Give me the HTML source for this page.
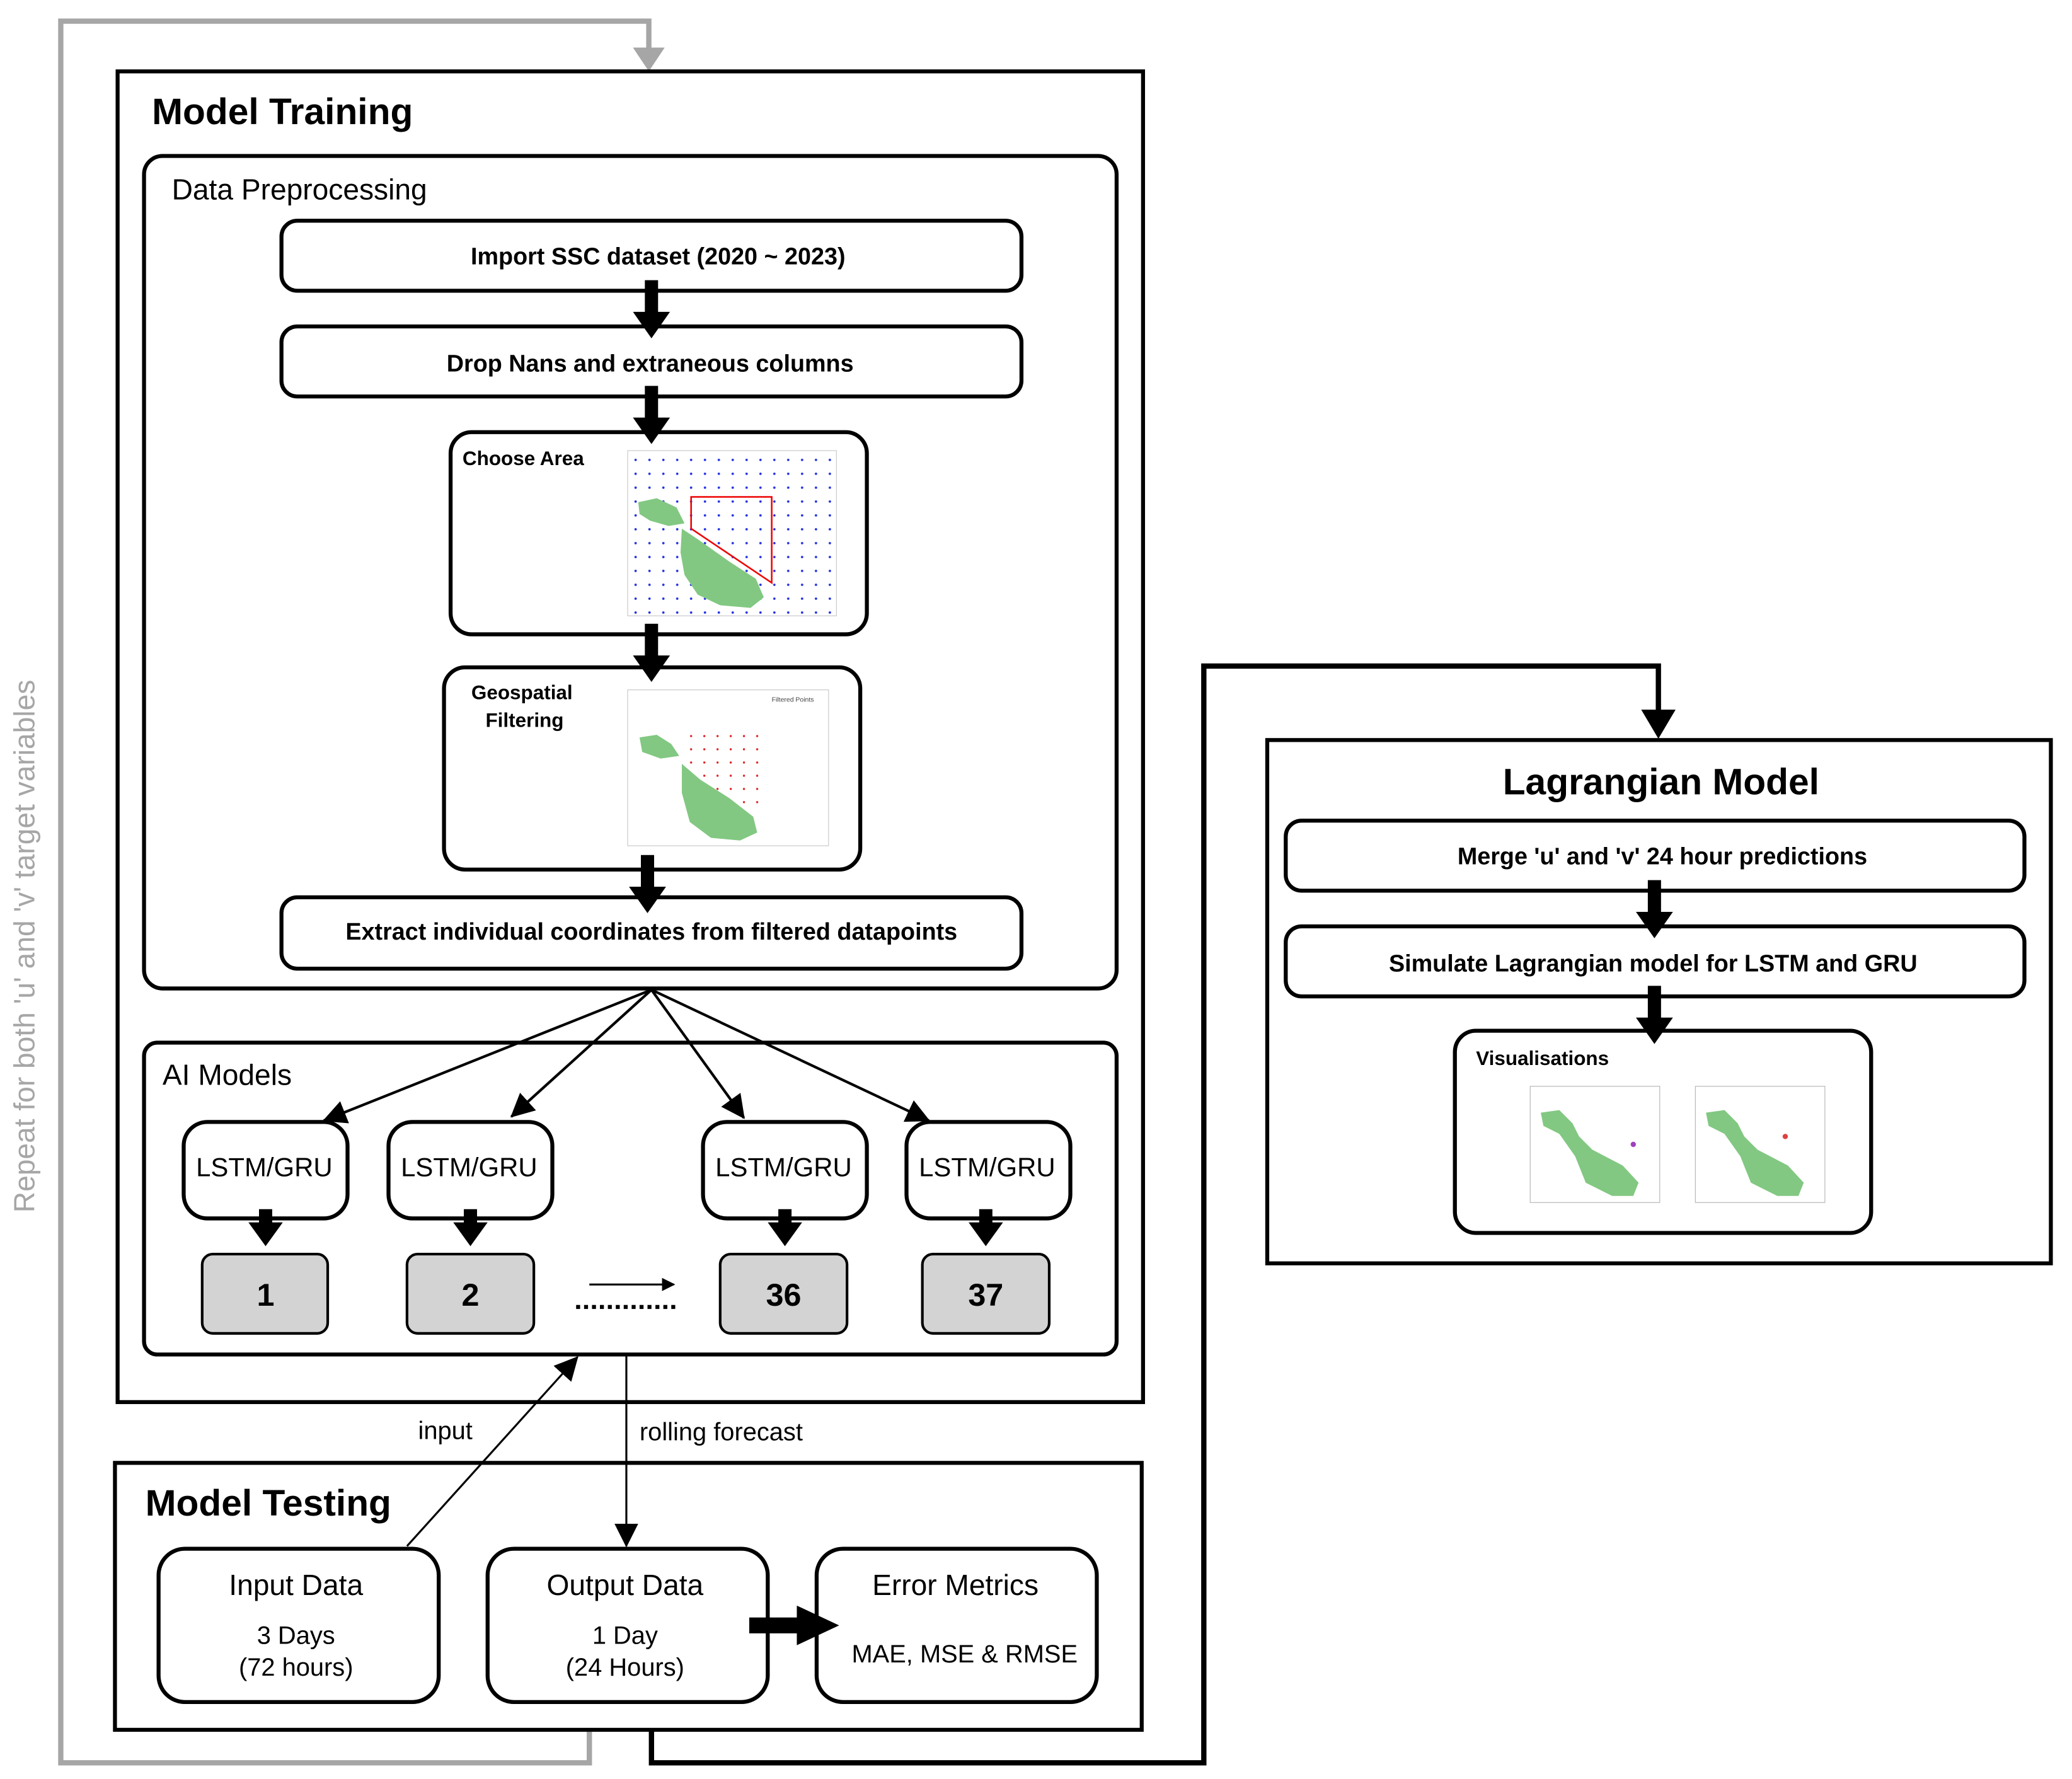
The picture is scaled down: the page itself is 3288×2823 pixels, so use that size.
<!DOCTYPE html>
<html><head><meta charset="utf-8"><style>
html,body{margin:0;padding:0;background:#fff;}
svg{display:block;}
text{font-family:"Liberation Sans",sans-serif;}
</style></head><body>
<svg width="3288" height="2823" viewBox="0 0 1568 1346.2" xmlns="http://www.w3.org/2000/svg">
<defs>
<marker id="ah" markerWidth="10" markerHeight="10" refX="9" refY="5" orient="auto" markerUnits="userSpaceOnUse" viewBox="0 0 10 10"><path d="M0,0 L10,5 L0,10 z" fill="#000"/></marker>
<marker id="ahs" markerWidth="18" markerHeight="18" refX="17" refY="9" orient="auto" markerUnits="userSpaceOnUse" viewBox="0 0 18 18"><path d="M0,0 L18,9 L0,18 z" fill="#000"/></marker>
<pattern id="bd" x="480" y="347" width="10.5" height="10.5" patternUnits="userSpaceOnUse"><circle cx="1" cy="1" r="0.9" fill="#2030e0"/></pattern>
<pattern id="rd" x="522" y="556" width="10" height="10" patternUnits="userSpaceOnUse"><circle cx="1" cy="1" r="0.8" fill="#e02020"/></pattern>
<g id="ba"><rect x="-5" y="0" width="10" height="26" fill="#000"/><path d="M-14,24 L14,24 L0,44 z" fill="#000"/></g>
<g id="ba2"><rect x="-5" y="0" width="10" height="12" fill="#000"/><path d="M-13,10 L13,10 L0,28 z" fill="#000"/></g>
</defs>
<rect width="1568" height="1347" fill="#fff"/>
<path d="M446,1309 L446,1334 L46,1334 L46,16 L491,16 L491,38" fill="none" stroke="#a6a6a6" stroke-width="4"/>
<path d="M479,36 L503,36 L491,54 z" fill="#a6a6a6"/>
<text transform="translate(26,716) rotate(-90)" text-anchor="middle" font-size="22" fill="#a6a6a6">Repeat for both 'u' and 'v' target variables</text>
<path d="M493,1309 L493,1334 L911,1334 L911,504 L1255,504 L1255,540" fill="none" stroke="#000" stroke-width="4"/>
<path d="M1242,537 L1268,537 L1255,559 z" fill="#000"/>
<rect x="89" y="54" width="776" height="1007" fill="none" stroke="#000" stroke-width="3"/>
<text x="115" y="94" font-size="28" font-weight="bold">Model Training</text>
<rect x="109" y="118" width="736" height="630" rx="14" fill="#fff" stroke="#000" stroke-width="3"/>
<text x="130" y="151" font-size="22">Data Preprocessing</text>
<rect x="213" y="167" width="560" height="53" rx="12" fill="#fff" stroke="#000" stroke-width="3"/>
<text x="498" y="200" font-size="18" font-weight="bold" text-anchor="middle">Import SSC dataset (2020 ~ 2023)</text>
<rect x="213" y="247" width="560" height="53" rx="12" fill="#fff" stroke="#000" stroke-width="3"/>
<text x="492" y="281" font-size="18" font-weight="bold" text-anchor="middle">Drop Nans and extraneous columns</text>
<rect x="341" y="327" width="315" height="153" rx="16" fill="#fff" stroke="#000" stroke-width="3"/>
<text x="350" y="352" font-size="15" font-weight="bold">Choose Area</text>
<g>
<rect x="475" y="341" width="158" height="125" fill="url(#bd)" stroke="#ccc" stroke-width="0.6"/>
<path d="M483,380 L497,377 L512,384 L518,396 L506,398 L492,394 L484,389 z" fill="#82c882"/>
<path d="M516,400 L528,408 L552,425 L572,438 L578,452 L568,460 L545,458 L528,450 L518,435 L515,418 z" fill="#82c882"/>
<path d="M523,376 L584,376 L584,441 L523,400 z" fill="none" stroke="#e00" stroke-width="1.2"/>
</g>
<rect x="336" y="505" width="315" height="153" rx="16" fill="#fff" stroke="#000" stroke-width="3"/>
<text x="395" y="529" font-size="15" font-weight="bold" text-anchor="middle">Geospatial</text>
<text x="397" y="550" font-size="15" font-weight="bold" text-anchor="middle">Filtering</text>
<g>
<rect x="475" y="522" width="152" height="118" fill="#fff" stroke="#ccc" stroke-width="0.6"/>
<rect x="522" y="556" width="52" height="60" fill="url(#rd)"/>
<text x="584" y="531" font-size="5" fill="#444">Filtered Points</text>
<path d="M484,558 L497,556 L508,563 L514,572 L500,574 L486,569 z" fill="#82c882"/>
<path d="M516,578 L530,590 L552,604 L570,618 L573,630 L560,636 L538,634 L522,622 L516,600 z" fill="#82c882"/>
</g>
<rect x="213" y="679" width="560" height="54" rx="12" fill="#fff" stroke="#000" stroke-width="3"/>
<text x="493" y="711" font-size="18" font-weight="bold" text-anchor="middle">Extract individual coordinates from filtered datapoints</text>
<use href="#ba" x="493" y="212"/>
<use href="#ba" x="493" y="292"/>
<use href="#ba" x="493" y="472"/>
<use href="#ba" x="490" y="647"/>
<g stroke="#000" stroke-width="2" fill="none" marker-end="url(#ahs)">
<line x1="493" y1="749" x2="245" y2="848"/>
<line x1="493" y1="749" x2="387" y2="845"/>
<line x1="493" y1="749" x2="563" y2="846"/>
<line x1="493" y1="749" x2="703" y2="848"/>
</g>
<rect x="109" y="789" width="736" height="236" rx="10" fill="none" stroke="#000" stroke-width="3"/>
<text x="123" y="821" font-size="22">AI Models</text>
<g font-size="20" text-anchor="middle">
<rect x="139" y="849" width="124" height="73" rx="18" fill="#fff" stroke="#000" stroke-width="3"/><text x="200" y="890">LSTM/GRU</text>
<rect x="294" y="849" width="124" height="73" rx="18" fill="#fff" stroke="#000" stroke-width="3"/><text x="355" y="890">LSTM/GRU</text>
<rect x="532" y="849" width="124" height="73" rx="18" fill="#fff" stroke="#000" stroke-width="3"/><text x="593" y="890">LSTM/GRU</text>
<rect x="686" y="849" width="124" height="73" rx="18" fill="#fff" stroke="#000" stroke-width="3"/><text x="747" y="890">LSTM/GRU</text>
</g>
<g font-size="24" font-weight="bold" text-anchor="middle">
<rect x="153" y="949" width="95" height="60" rx="8" fill="#d3d3d3" stroke="#000" stroke-width="2"/><text x="201" y="988">1</text>
<rect x="308" y="949" width="96" height="60" rx="8" fill="#d3d3d3" stroke="#000" stroke-width="2"/><text x="356" y="988">2</text>
<rect x="545" y="949" width="96" height="60" rx="8" fill="#d3d3d3" stroke="#000" stroke-width="2"/><text x="593" y="988">36</text>
<rect x="698" y="949" width="96" height="60" rx="8" fill="#d3d3d3" stroke="#000" stroke-width="2"/><text x="746" y="988">37</text>
</g>
<use href="#ba2" x="201" y="915"/>
<use href="#ba2" x="356" y="915"/>
<use href="#ba2" x="594" y="915"/>
<use href="#ba2" x="746" y="915"/>
<line x1="436" y1="989" x2="514" y2="989" stroke="#000" stroke-width="3" stroke-dasharray="3,3"/>
<line x1="446" y1="972" x2="510" y2="972" stroke="#000" stroke-width="1.5" marker-end="url(#ah)"/>
<line x1="308" y1="1170" x2="437" y2="1027" stroke="#000" stroke-width="1.5" marker-end="url(#ahs)"/>
<text x="337" y="1089" font-size="19" text-anchor="middle">input</text>
<line x1="474" y1="1026" x2="474" y2="1170" stroke="#000" stroke-width="1.5" marker-end="url(#ahs)"/>
<text x="484" y="1090" font-size="19">rolling forecast</text>
<rect x="87" y="1107" width="777" height="202" fill="none" stroke="#000" stroke-width="3"/>
<text x="110" y="1147" font-size="28" font-weight="bold">Model Testing</text>
<g text-anchor="middle">
<rect x="120" y="1172" width="212" height="116" rx="20" fill="#fff" stroke="#000" stroke-width="3"/>
<text x="224" y="1207" font-size="22">Input Data</text>
<text x="224" y="1244" font-size="19">3 Days</text><text x="224" y="1268" font-size="19">(72 hours)</text>
<rect x="369" y="1172" width="212" height="116" rx="20" fill="#fff" stroke="#000" stroke-width="3"/>
<text x="473" y="1207" font-size="22">Output Data</text>
<text x="473" y="1244" font-size="19">1 Day</text><text x="473" y="1268" font-size="19">(24 Hours)</text>
<rect x="618" y="1172" width="212" height="116" rx="20" fill="#fff" stroke="#000" stroke-width="3"/>
<text x="723" y="1207" font-size="22">Error Metrics</text>
<text x="730" y="1258" font-size="19">MAE, MSE &amp; RMSE</text>
</g>
<rect x="567" y="1224" width="40" height="12" fill="#000"/>
<path d="M603,1215 L635,1230 L603,1245 z" fill="#000"/>
<rect x="959" y="560" width="593" height="396" fill="none" stroke="#000" stroke-width="3"/>
<text x="1257" y="601" font-size="28" font-weight="bold" text-anchor="middle">Lagrangian Model</text>
<rect x="973" y="621" width="559" height="53" rx="12" fill="#fff" stroke="#000" stroke-width="3"/>
<text x="1258" y="654" font-size="18" font-weight="bold" text-anchor="middle">Merge 'u' and 'v' 24 hour predictions</text>
<rect x="973" y="701" width="559" height="53" rx="12" fill="#fff" stroke="#000" stroke-width="3"/>
<text x="1251" y="735" font-size="18" font-weight="bold" text-anchor="middle">Simulate Lagrangian model for LSTM and GRU</text>
<use href="#ba" x="1252" y="666"/>
<rect x="1101" y="780" width="315" height="153" rx="16" fill="#fff" stroke="#000" stroke-width="3"/>
<use href="#ba" x="1252" y="746"/>
<text x="1117" y="806" font-size="15" font-weight="bold">Visualisations</text>
<g stroke="#bbb" stroke-width="0.6" fill="none">
<rect x="1158" y="822" width="98" height="88"/>
<rect x="1283" y="822" width="98" height="88"/>
</g>
<path d="M1166,842 L1180,840 L1190,850 L1195,860 L1205,870 L1228,882 L1240,895 L1236,905 L1220,905 L1200,895 L1192,875 L1180,858 L1168,852 z" fill="#82c882"/>
<path d="M1291,842 L1305,840 L1315,850 L1320,860 L1330,870 L1353,882 L1365,895 L1361,905 L1345,905 L1325,895 L1317,875 L1305,858 L1293,852 z" fill="#82c882"/>
<circle cx="1236" cy="866" r="2" fill="#a040c0"/>
<circle cx="1351" cy="860" r="2" fill="#e04040"/>
</svg>
</body></html>
